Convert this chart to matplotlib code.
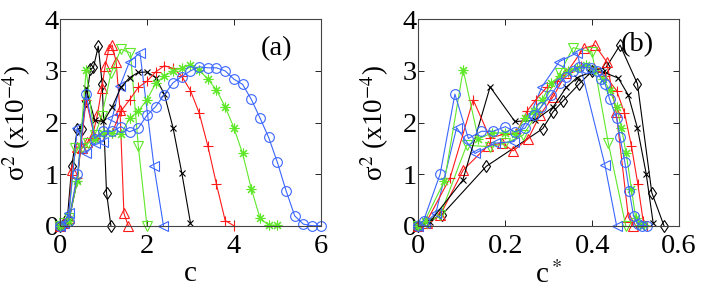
import matplotlib
matplotlib.use('Agg')
import matplotlib.pyplot as plt

plt.rcParams['font.family'] = ['Liberation Serif', 'DejaVu Serif']
plt.rcParams['mathtext.fontset'] = 'stix'

# ---------------- panel (a): sigma^2 vs c ----------------
a_c_d = [0, 0.07, 0.17, 0.27, 0.4, 0.5, 0.6, 0.7, 0.77, 0.88, 0.97, 1.07, 1.17]
a_s_d = [0, 0.02, 0.15, 1.16, 1.88, 1.88, 2.42, 3.03, 3.07, 3.48, 2.75, 0.64, 0.0]

a_c_tu = [0, 0.1, 0.2, 0.27, 0.38, 0.5, 0.63, 0.75, 0.86, 0.96, 1.04, 1.12, 1.2, 1.29, 1.38, 1.47, 1.57]
a_s_tu = [0, 0.05, 0.15, 1.08, 1.53, 1.5, 1.62, 1.75, 2.15, 2.66, 3.1, 3.42, 3.5, 3.18, 2.24, 0.24, 0.0]

a_c_td = [0, 0.1, 0.2, 0.35, 0.5, 0.65, 0.8, 0.96, 1.17, 1.4, 1.62, 1.8, 2.0]
a_s_td = [0, 0.05, 0.15, 1.5, 1.5, 1.6, 1.75, 2.12, 2.95, 3.42, 3.35, 1.55, 0.0]

a_c_tl = [0, 0.1, 0.2, 0.4, 0.6, 0.8, 1.0, 1.2, 1.38, 1.6, 1.84, 2.16, 2.38]
a_s_tl = [0, 0.05, 0.24, 1.9, 1.4, 1.6, 1.63, 2.08, 2.71, 3.18, 3.35, 1.16, 0.0]

a_c_x = [0, 0.2, 0.4, 0.6, 0.8, 1.0, 1.2, 1.4, 1.6, 1.8, 2.0, 2.2, 2.4, 2.6, 2.8, 3.0]
a_s_x = [0, 0.08, 0.88, 2.66, 2.04, 2.02, 2.3, 2.68, 2.87, 2.97, 2.98, 2.87, 2.55, 1.9, 1.03, 0.06]

a_c_p = [0, 0.2, 0.4, 0.6, 0.8, 1.0, 1.2, 1.4, 1.6, 1.8, 2.0, 2.2, 2.4, 2.6, 2.8, 3.0,
         3.2, 3.4, 3.6, 3.8, 4.0]
a_s_p = [0, 0.1, 0.93, 2.44, 1.7, 1.78, 1.8, 2.22, 2.44, 2.68, 2.8, 2.98, 3.1, 3.05, 2.9, 2.62,
         2.19, 1.55, 0.8, 0.1, 0.0]

a_c_st = [0, 0.2, 0.4, 0.6, 0.8, 1.0, 1.2, 1.4, 1.6, 1.8, 2.0, 2.2, 2.4, 2.6, 2.8, 3.0,
          3.2, 3.4, 3.6, 3.8, 4.0, 4.2, 4.4, 4.6, 4.8, 5.0]
a_s_st = [0, 0.1, 0.87, 3.02, 1.68, 1.8, 1.8, 1.77, 2.08, 2.22, 2.44, 2.76, 2.9, 3.0, 3.05, 3.12,
          3.02, 2.84, 2.63, 2.3, 1.9, 1.4, 0.72, 0.15, 0.01, 0.01]

a_c_o = [0, 0.2, 0.4, 0.6, 0.8, 1.0, 1.2, 1.4, 1.6, 1.8, 2.0, 2.2, 2.4, 2.6, 2.8, 3.0,
         3.2, 3.4, 3.6, 3.8, 4.0, 4.2, 4.4, 4.6, 4.8, 5.0, 5.2, 5.4, 5.6, 5.8, 6.0]
a_s_o = [0, 0.1, 1.0, 2.55, 1.69, 1.83, 1.83, 1.92, 1.82, 1.89, 2.14, 2.31, 2.54, 2.77, 2.89, 3.0,
         3.08, 3.06, 3.06, 3.0, 2.84, 2.74, 2.45, 2.09, 1.71, 1.23, 0.68, 0.19, 0.03, 0.0, 0.0]

# ---------------- panel (b): sigma^2 vs c* ----------------
b_c_d = [0, 0.054, 0.156, 0.286, 0.31, 0.333, 0.37, 0.4, 0.432, 0.464, 0.504, 0.537, 0.565]
b_s_d = [0, 0.21, 1.15, 1.88, 2.21, 2.42, 2.75, 3.0, 3.07, 3.5, 2.75, 0.64, 0.0]

b_c_tu = [0, 0.02, 0.05, 0.103, 0.16, 0.192, 0.218, 0.253, 0.28, 0.31, 0.34, 0.38, 0.406, 0.433, 0.455, 0.483, 0.494]
b_s_tu = [0, 0.05, 0.2, 1.08, 1.55, 1.6, 1.45, 1.69, 2.15, 2.5, 2.95, 3.44, 3.5, 3.18, 2.2, 0.17, 0.0]

b_c_td = [0, 0.02, 0.05, 0.111, 0.165, 0.2, 0.24, 0.27, 0.325, 0.356, 0.399, 0.437, 0.477]
b_s_td = [0, 0.05, 0.2, 1.56, 1.53, 1.6, 1.75, 2.12, 2.95, 3.45, 3.37, 1.6, 0.0]

b_c_tl = [0, 0.015, 0.04, 0.088, 0.13, 0.176, 0.22, 0.257, 0.284, 0.324, 0.365, 0.429, 0.456]
b_s_tl = [0, 0.05, 0.24, 1.9, 1.4, 1.6, 1.63, 2.14, 2.69, 3.18, 3.35, 1.18, 0.0]

b_c_x = [0, 0.027, 0.102, 0.165, 0.222, 0.268, 0.31, 0.34, 0.365, 0.395, 0.425, 0.46, 0.483, 0.504, 0.524, 0.54]
b_s_x = [0, 0.08, 0.88, 2.69, 2.02, 2.04, 2.3, 2.68, 2.87, 2.97, 2.98, 2.86, 2.53, 1.89, 1.01, 0.06]

b_c_p = [0, 0.02, 0.073, 0.126, 0.165, 0.2, 0.225, 0.25, 0.27, 0.295, 0.32, 0.345, 0.375, 0.405,
         0.43, 0.456, 0.474, 0.49, 0.505, 0.517, 0.527]
b_s_p = [0, 0.1, 0.93, 2.44, 1.7, 1.78, 1.8, 2.22, 2.44, 2.68, 2.8, 2.98, 3.1, 3.05,
         2.9, 2.62, 2.19, 1.55, 0.8, 0.1, 0.0]

b_c_st = [0, 0.015, 0.06, 0.103, 0.138, 0.17, 0.2, 0.222, 0.245, 0.265, 0.285, 0.305, 0.325, 0.345,
          0.365, 0.385, 0.405, 0.425, 0.44, 0.456, 0.467, 0.478, 0.49, 0.5, 0.51, 0.52]
b_s_st = a_s_st

b_c_o = [0, 0.012, 0.05, 0.084, 0.115, 0.145, 0.172, 0.2, 0.222, 0.245, 0.265, 0.283, 0.305, 0.325,
         0.34, 0.355, 0.37, 0.385, 0.398, 0.41, 0.42, 0.43, 0.44, 0.456, 0.464, 0.475, 0.485, 0.495,
         0.505, 0.515, 0.525]
b_s_o = a_s_o

K = 'black'
R = '#ff1a1a'
G = '#5fe82a'
B = '#3a66ff'
AST = (8, 2, 0)

styles = [
    ('d', K, 6.5),
    ('^', R, 7.5),
    ('v', G, 7.5),
    ('<', B, 7.5),
    ('x', K, 5.0),
    ('+', R, 7.5),
    (AST, G, 7.0),
    ('o', B, 7.0),
]

panel_a = [(a_c_d, a_s_d), (a_c_tu, a_s_tu), (a_c_td, a_s_td), (a_c_tl, a_s_tl),
           (a_c_x, a_s_x), (a_c_p, a_s_p), (a_c_st, a_s_st), (a_c_o, a_s_o)]
panel_b = [(b_c_d, b_s_d), (b_c_tu, b_s_tu), (b_c_td, b_s_td), (b_c_tl, b_s_tl),
           (b_c_x, b_s_x), (b_c_p, b_s_p), (b_c_st, b_s_st), (b_c_o, b_s_o)]

fig = plt.figure(figsize=(7.02, 2.97), dpi=100)
axa = fig.add_axes([0.0855, 0.240, 0.3715, 0.695])
axb = fig.add_axes([0.596, 0.240, 0.3715, 0.695])

FS = 20.5
LFS = 19.5

for ax, data in ((axa, panel_a), (axb, panel_b)):
    for (xs, ys), (m, col, ms) in zip(data, styles):
        ax.plot(xs, ys, color=col, lw=0.8, marker=m, markersize=ms,
                markerfacecolor='none', markeredgecolor=col, markeredgewidth=0.8,
                clip_on=False)
    ax.set_ylim(0, 4)
    ax.set_yticks([0, 1, 2, 3, 4])
    ax.tick_params(axis='both', direction='in', which='both', top=True, right=True,
                   labelsize=FS, length=4, width=0.6)
    ax.tick_params(axis='y', pad=1)
    ax.tick_params(axis='x', pad=6)
    for sp in ax.spines.values():
        sp.set_color('#444444')
        sp.set_linewidth(0.8)
    ax.set_ylabel('σ$^{2}$ (x10$^{-4}$)', fontsize=LFS)
    ax.yaxis.set_label_coords(-0.105, 0.5)

axa.set_xlim(0, 6)
axa.set_xticks([0, 2, 4, 6])
axa.set_xlabel('c', fontsize=LFS + 1.5)
axa.xaxis.set_label_coords(0.5, -0.17)
axa.text(0.83, 0.86, '(a)', transform=axa.transAxes, fontsize=FS,
         ha='center', va='center')

axb.set_xlim(0, 0.6)
axb.set_xticks([0, 0.2, 0.4, 0.6])
axb.set_xticklabels(['0', '0.2', '0.4', '0.6'])
axb.set_xlabel(r'c$^*$', fontsize=LFS + 1.5)
axb.xaxis.set_label_coords(0.5, -0.17)
axb.text(0.84, 0.875, '(b)', transform=axb.transAxes, fontsize=FS,
         ha='center', va='center')

fig.savefig('out.png', dpi=100)
